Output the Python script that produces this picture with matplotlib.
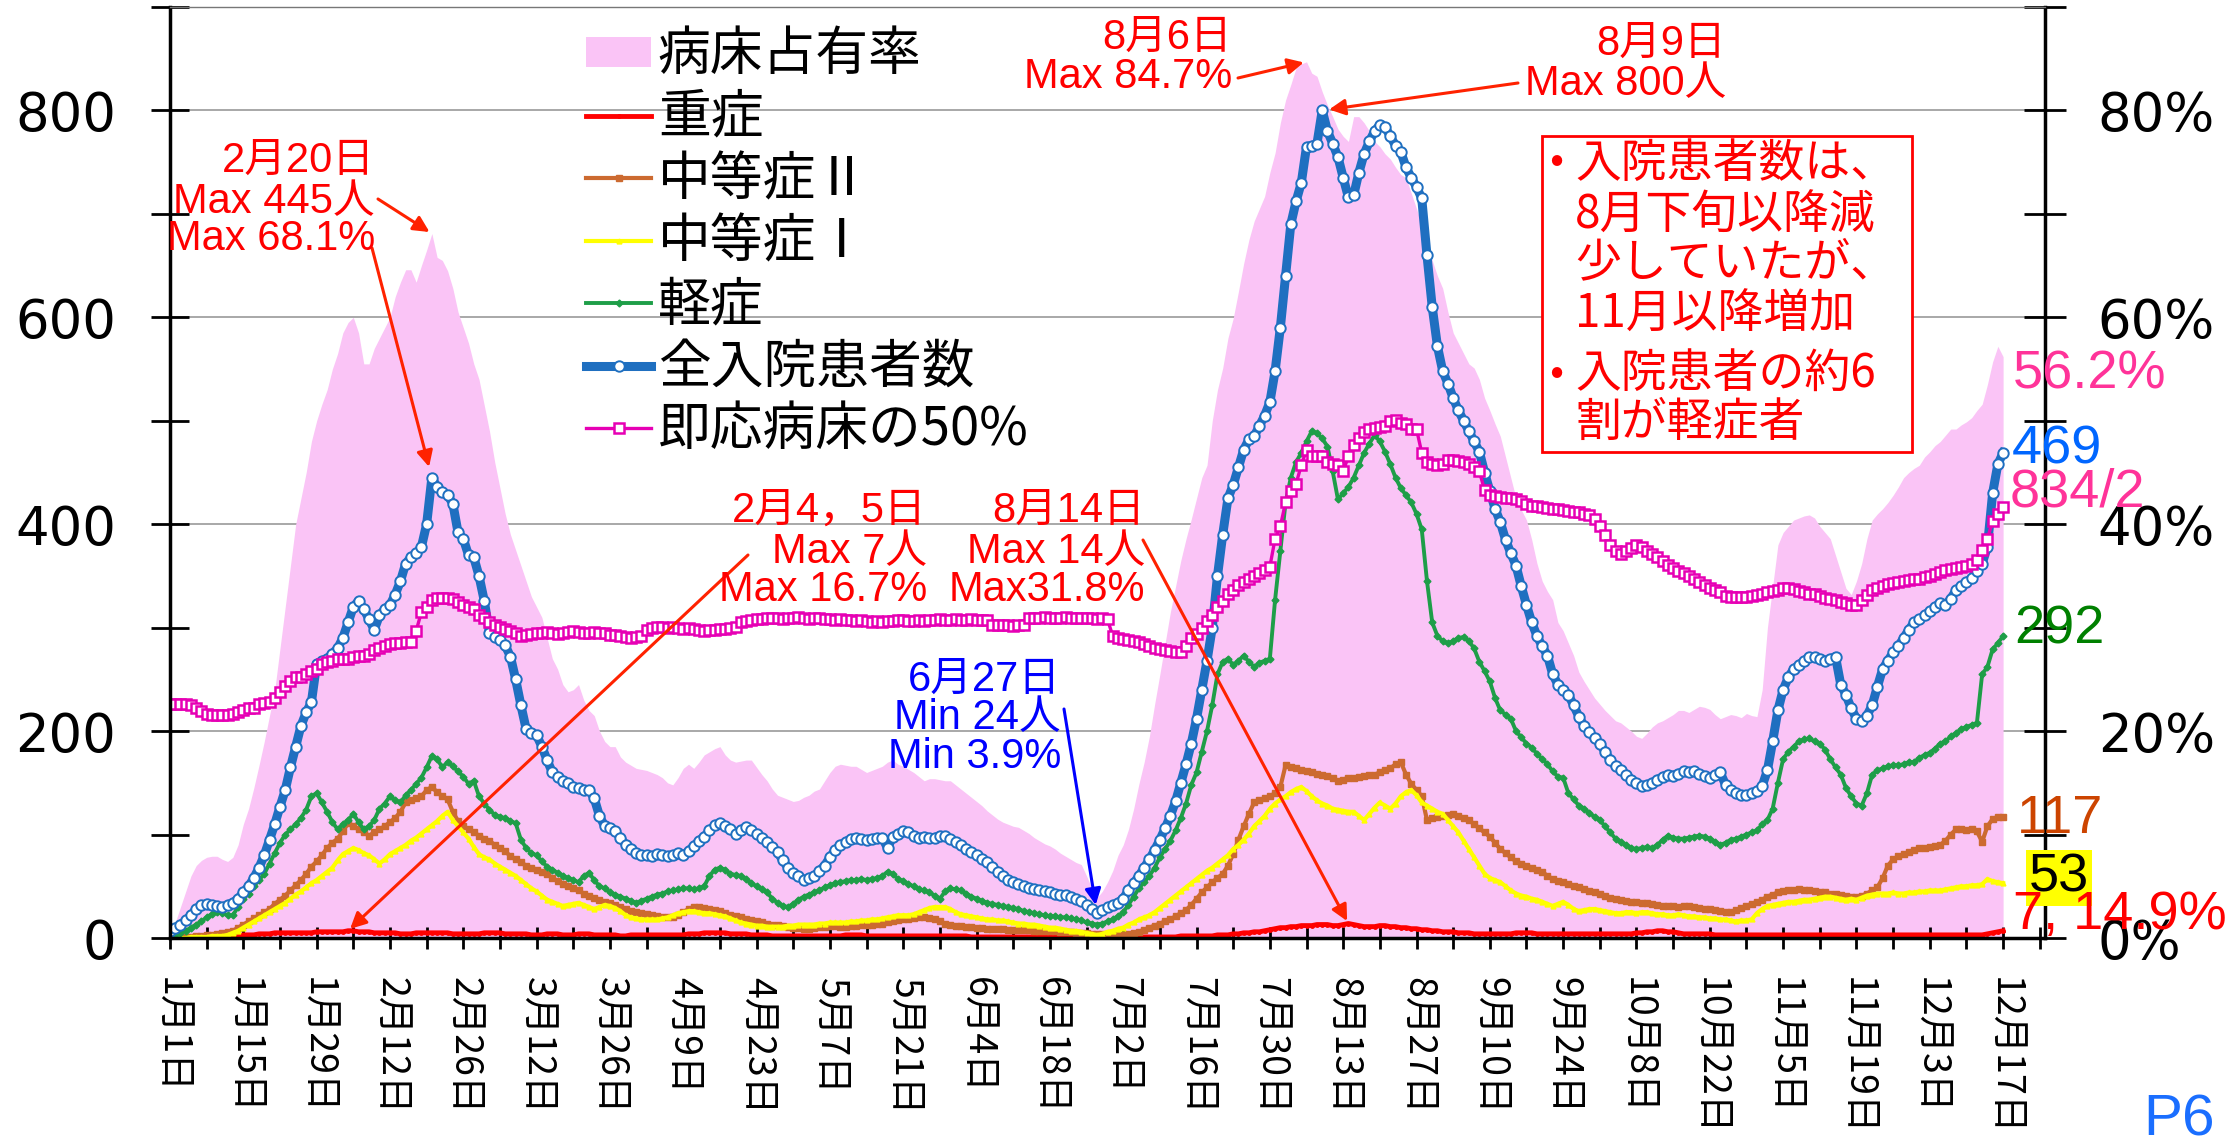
import matplotlib
matplotlib.use("Agg")
import matplotlib.pyplot as plt
from matplotlib.lines import Line2D
from matplotlib.patches import Patch, Rectangle
import numpy as np

plt.rcParams['font.family'] = ['Noto Sans CJK JP', 'DejaVu Sans']

W, H = 2226, 1147

# x tick labels, one every 14 days from Jan 1 to Dec 17
tick_labels = ["1月1日", "1月15日", "1月29日", "2月12日", "2月26日", "3月12日",
               "3月26日", "4月9日", "4月23日", "5月7日", "5月21日", "6月4日",
               "6月18日", "7月2日", "7月16日", "7月30日", "8月13日", "8月27日",
               "9月10日", "9月24日", "10月8日", "10月22日", "11月5日", "11月19日",
               "12月3日", "12月17日"]

series_labels = ["病床占有率", "重症", "中等症Ⅱ", "中等症Ⅰ", "軽症",
                 "全入院患者数", "即応病床の50%"]

# daily values, one row per week (day index in comment)
total = [
    7, 10, 13, 17, 22, 28, 32,            # 0
    33, 32, 31, 30, 32, 34, 38,           # 7
    44, 50, 58, 68, 80, 95, 110,          # 14
    127, 143, 165, 185, 205, 218, 228,    # 21
    265, 268, 270, 275, 280, 290, 305,    # 28
    320, 326, 318, 308, 298, 312, 318,    # 35
    322, 332, 345, 362, 368, 372, 378,    # 42
    400, 445, 436, 431, 428, 420, 392,    # 49
    386, 370, 368, 350, 326, 295, 291,    # 56
    288, 283, 272, 250, 225, 202, 198,    # 63
    196, 185, 172, 160, 156, 152, 150,    # 70
    146, 145, 143, 143, 135, 118, 108,    # 77
    106, 103, 97, 90, 86, 82, 80,         # 84
    80, 79, 81, 80, 79, 80, 82,           # 91
    80, 84, 89, 94, 98, 104, 109,         # 98
    111, 108, 105, 101, 104, 107, 104,    # 105
    101, 97, 93, 88, 83, 75, 68,          # 112
    63, 60, 56, 58, 60, 65, 70,           # 119
    78, 85, 90, 93, 96, 97, 96,           # 126
    95, 96, 97, 97, 87, 98, 101,          # 133
    103, 102, 99, 97, 98, 97, 97,         # 140
    99, 99, 96, 93, 90, 86, 83,           # 147
    80, 76, 73, 69, 64, 60, 56,           # 154
    54, 52, 50, 48, 47, 46, 45,           # 161
    44, 43, 42, 42, 40, 38, 36,           # 168
    32, 28, 24, 27, 30, 32, 34,           # 175
    38, 46, 53, 60, 68, 76, 85,           # 182
    95, 106, 118, 132, 150, 168, 188,     # 189
    212, 240, 268, 300, 350, 390, 425,    # 196
    438, 455, 472, 482, 485, 495, 505,    # 203
    518, 548, 590, 640, 690, 712, 730,    # 210
    765, 766, 768, 800, 780, 768, 755,    # 217
    735, 716, 718, 740, 758, 770, 780,    # 224
    786, 784, 775, 766, 760, 745, 735,    # 231
    726, 715, 660, 610, 572, 548, 536,    # 238
    522, 510, 500, 490, 480, 470, 450,    # 245
    432, 415, 402, 385, 372, 360, 340,    # 252
    322, 305, 292, 282, 273, 255, 245,    # 259
    240, 235, 225, 214, 205, 199, 193,    # 266
    188, 180, 172, 166, 162, 158, 153,    # 273
    150, 147, 148, 150, 153, 156, 158,    # 280
    157, 159, 161, 160, 161, 159, 157,    # 287
    155, 158, 160, 148, 143, 140, 138,    # 294
    138, 140, 142, 147, 162, 190, 220,    # 301
    240, 252, 260, 264, 268, 272, 272,    # 308
    270, 268, 270, 272, 245, 235, 222,    # 315
    212, 210, 215, 225, 243, 260, 268,    # 322
    276, 282, 290, 298, 305, 308, 312,    # 329
    316, 320, 324, 322, 328, 336, 340,    # 336
    344, 348, 355, 362, 378, 430, 458,    # 343
    469,                                  # 350
]

beds_half = [
    226, 226, 226, 226, 225, 222, 219,
    217, 216, 216, 216, 216, 217, 218,
    220, 222, 222, 226, 227, 228, 232,
    238, 244, 248, 252, 252, 255, 258,
    260, 265, 267, 268, 270, 270, 270,
    272, 273, 273, 275, 278, 280, 282,
    284, 285, 285, 286, 286, 297, 315,
    320, 327, 329, 329, 329, 328, 325,
    322, 320, 318, 312, 309, 305, 303,
    301, 299, 297, 295, 292, 293, 294,
    295, 295, 296, 295, 294, 295, 296,
    297, 296, 295, 295, 296, 295, 295,
    293, 293, 292, 291, 290, 291, 292,
    298, 300, 301, 301, 300, 301, 300,
    299, 300, 299, 298, 297, 298, 298,
    299, 299, 300, 301, 305, 306, 307,
    308, 308, 309, 309, 309, 308, 309,
    309, 310, 309, 308, 309, 309, 308,
    308, 307, 308, 307, 307, 306, 307,
    306, 305, 306, 305, 306, 306, 307,
    307, 306, 306, 307, 306, 307, 307,
    308, 307, 307, 308, 307, 307, 308,
    307, 307, 307, 303, 303, 303, 303,
    302, 303, 303, 309, 309, 309, 310,
    309, 309, 309, 310, 309, 309, 309,
    309, 309, 308, 309, 308, 292, 290,
    289, 288, 287, 286, 284, 282, 280,
    279, 278, 277, 276, 276, 282, 290,
    294, 300, 306, 312, 320, 326, 333,
    336, 341, 344, 347, 350, 353, 356,
    359, 386, 398, 421, 432, 439, 457,
    472, 466, 466, 466, 460, 458, 457,
    451, 466, 477, 483, 489, 492, 493,
    494, 495, 500, 501, 498, 497, 492,
    492, 469, 460, 458, 457, 458, 462,
    462, 461, 460, 458, 455, 451, 433,
    428, 427, 426, 425, 425, 424, 422,
    420, 418, 418, 417, 416, 415, 415,
    414, 413, 412, 412, 410, 409, 405,
    398, 390, 380, 374, 371, 374, 377,
    380, 378, 374, 371, 368, 364, 361,
    358, 355, 353, 350, 347, 344, 341,
    338, 336, 334, 331, 330, 330, 330,
    330, 331, 332, 333, 334, 335, 336,
    338, 338, 337, 335, 334, 333, 333,
    331, 329, 328, 327, 325, 324, 322,
    322, 327, 332, 336, 338, 340, 342,
    343, 344, 345, 346, 347, 347, 349,
    350, 352, 354, 356, 357, 358, 359,
    360, 362, 365, 375, 386, 403, 410,
    417,
]

mild = [
    1, 3, 5, 7, 10, 13, 16,
    20, 23, 25, 24, 22, 22, 30,
    38, 43, 50, 56, 62, 72, 82,
    92, 100, 105, 110, 116, 124, 137,
    140, 131, 122, 112, 105, 110, 114,
    120, 112, 105, 108, 114, 125, 130,
    137, 133, 131, 138, 143, 149, 155,
    165, 176, 173, 165, 170, 166, 161,
    156, 149, 152, 137, 130, 124, 119,
    117, 116, 113, 111, 95, 87, 82,
    80, 74, 69, 66, 63, 60, 58,
    56, 54, 60, 63, 56, 50, 48,
    44, 42, 40, 38, 36, 34, 36,
    38, 40, 42, 43, 45, 46, 47,
    48, 48, 47, 48, 50, 60, 66,
    68, 66, 62, 61, 60, 57, 53,
    50, 47, 44, 38, 34, 31, 30,
    33, 37, 40, 42, 44, 46, 49,
    51, 53, 54, 55, 56, 56, 57,
    56, 57, 58, 60, 64, 62, 57,
    55, 52, 50, 47, 46, 44, 41,
    38, 45, 48, 47, 46, 43, 40,
    38, 36, 34, 33, 32, 31, 30,
    29, 28, 26, 25, 24, 23, 22,
    21, 21, 20, 20, 19, 18, 17,
    15, 14, 13, 14, 16, 18, 21,
    25, 32, 40, 48, 54, 60, 68,
    78, 86, 94, 104, 116, 130, 148,
    160, 180, 200, 225, 255, 267, 270,
    264, 268, 273, 267, 262, 266, 268,
    270, 327, 374, 421, 445, 460, 469,
    480, 490, 488, 483, 475, 451, 424,
    430, 436, 445, 457, 469, 478, 486,
    480, 470, 458, 445, 435, 428, 421,
    410, 395, 345, 305, 292, 287, 285,
    287, 290, 291, 287, 280, 267, 258,
    248, 232, 220, 216, 212, 200, 194,
    188, 184, 178, 173, 168, 161, 156,
    155, 140, 134, 128, 125, 121, 117,
    114, 108, 102, 96, 93, 90, 87,
    86, 87, 88, 87, 90, 95, 99,
    97, 96, 96, 97, 98, 99, 98,
    96, 93, 90, 92, 95, 96, 98,
    100, 102, 104, 110, 114, 125, 150,
    173, 180, 185, 190, 192, 193, 190,
    188, 182, 173, 165, 158, 145, 137,
    130, 128, 140, 158, 162, 164, 166,
    167, 167, 168, 170, 170, 174, 177,
    179, 183, 188, 190, 195, 198, 202,
    204, 206, 208, 255, 262, 279, 285,
    292,
]

moderate2 = [
    0, 0, 1, 1, 1, 2, 2,
    3, 3, 4, 5, 6, 7, 10,
    13, 16, 19, 22, 25, 28, 33,
    37, 41, 46, 51, 56, 62, 69,
    74, 80, 87, 92, 96, 103, 111,
    108, 105, 102, 99, 102, 105, 108,
    112, 116, 122, 131, 133, 135, 137,
    143, 146, 141, 137, 134, 122, 113,
    108, 105, 102, 99, 96, 94, 90,
    87, 84, 79, 76, 73, 70, 68,
    66, 64, 62, 58, 55, 52, 50,
    48, 46, 43, 41, 39, 37, 35,
    34, 32, 30, 28, 26, 25, 24,
    23, 22, 21, 20, 20, 20, 22,
    25, 28, 30, 30, 29, 28, 27,
    26, 24, 22, 21, 20, 18, 17,
    16, 15, 14, 13, 13, 12, 11,
    10, 10, 9, 9, 10, 11, 11,
    12, 12, 11, 11, 12, 12, 13,
    13, 13, 14, 14, 15, 16, 17,
    18, 18, 19, 20, 20, 19, 18,
    16, 14, 13, 12, 12, 11, 11,
    10, 10, 9, 9, 9, 9, 8,
    8, 8, 8, 8, 7, 7, 7,
    7, 7, 6, 6, 6, 5, 5,
    5, 4, 4, 4, 4, 3, 3,
    3, 4, 5, 6, 8, 10, 12,
    14, 16, 18, 21, 24, 27, 32,
    38, 44, 49, 54, 58, 62, 70,
    81, 95, 108, 120, 131, 133, 135,
    137, 140, 146, 167, 165, 164, 162,
    161, 160, 159, 158, 157, 155, 152,
    153, 155, 155, 156, 157, 158, 158,
    160, 162, 164, 168, 170, 158, 149,
    143, 137, 114, 116, 117, 118, 119,
    120, 118, 116, 114, 110, 106, 102,
    98, 92, 86, 82, 78, 74, 72,
    70, 68, 66, 64, 60, 57, 55,
    54, 52, 50, 49, 47, 45, 44,
    43, 41, 39, 38, 37, 36, 35,
    35, 34, 34, 33, 32, 31, 31,
    31, 30, 31, 31, 30, 29, 28,
    28, 27, 26, 25, 25, 27, 29,
    31, 33, 35, 37, 40, 42, 44,
    45, 46, 46, 47, 46, 46, 45,
    44, 44, 43, 43, 42, 41, 40,
    40, 41, 43, 46, 49, 58, 70,
    76, 79, 81, 83, 85, 87, 87,
    88, 89, 90, 94, 100, 105, 105,
    104, 105, 103, 93, 108, 115, 117,
    117,
]

moderate1 = [
    0, 0, 0, 0, 1, 1, 1,
    1, 2, 2, 2, 3, 5, 7,
    10, 13, 16, 19, 22, 25, 28,
    31, 34, 38, 42, 45, 49, 53,
    56, 60, 64, 68, 75, 81, 84,
    87, 85, 82, 80, 76, 72, 76,
    81, 84, 87, 90, 94, 97, 101,
    105, 109, 113, 118, 122, 114, 108,
    102, 96, 88, 81, 78, 76, 72,
    69, 66, 63, 60, 56, 52, 48,
    45, 41, 37, 35, 33, 31, 32,
    33, 34, 32, 30, 28, 30, 32,
    31, 29, 26, 22, 20, 19, 18,
    18, 18, 18, 19, 20, 22, 24,
    25, 26, 26, 25, 24, 24, 23,
    22, 21, 19, 17, 15, 14, 13,
    12, 12, 11, 11, 11, 11, 12,
    12, 13, 13, 13, 13, 14, 14,
    15, 15, 15, 15, 16, 16, 17,
    17, 18, 18, 19, 20, 21, 22,
    22, 22, 23, 25, 27, 29, 30,
    30, 30, 28, 25, 23, 22, 21,
    20, 19, 18, 18, 17, 17, 16,
    15, 14, 14, 13, 13, 12, 11,
    10, 10, 9, 8, 7, 7, 6,
    5, 4, 3, 4, 6, 7, 9,
    10, 13, 15, 18, 20, 22, 25,
    29, 33, 37, 41, 45, 49, 53,
    57, 61, 65, 68, 72, 76, 80,
    86, 90, 95, 101, 108, 113, 118,
    125, 130, 134, 137, 141, 144, 146,
    142, 137, 133, 130, 128, 125, 124,
    123, 122, 122, 118, 114, 120, 126,
    131, 128, 125, 130, 137, 141, 143,
    138, 131, 128, 125, 122, 120, 114,
    108, 102, 94, 86, 78, 70, 62,
    58, 56, 54, 50, 46, 43, 41,
    40, 38, 37, 35, 33, 31, 33,
    35, 32, 28, 26, 27, 28, 28,
    27, 26, 25, 24, 24, 25, 25,
    24, 25, 25, 24, 23, 23, 22,
    22, 23, 22, 21, 21, 20, 20,
    19, 19, 18, 18, 17, 16, 17,
    17, 18, 24, 28, 31, 32, 33,
    34, 35, 35, 36, 37, 37, 38,
    39, 40, 40, 39, 38, 37, 38,
    37, 39, 41, 42, 43, 43, 43,
    44, 43, 43, 44, 44, 45, 45,
    46, 46, 46, 47, 48, 49, 50,
    50, 51, 51, 52, 57, 55, 54,
    53,
]

severe = [
    0, 0, 0, 0, 0, 0, 0,
    0, 0, 0, 0, 1, 2, 2,
    3, 3, 3, 4, 4, 4, 5,
    5, 5, 5, 5, 5, 5, 5,
    6, 6, 6, 6, 6, 6, 7,
    7, 6, 6, 6, 5, 5, 5,
    5, 5, 4, 4, 4, 5, 5,
    5, 5, 5, 5, 5, 4, 4,
    4, 4, 4, 4, 5, 5, 5,
    5, 4, 4, 4, 4, 4, 3,
    3, 3, 4, 4, 4, 3, 3,
    3, 4, 4, 4, 3, 3, 3,
    3, 3, 2, 2, 3, 3, 3,
    3, 3, 3, 3, 3, 3, 3,
    3, 4, 4, 4, 5, 5, 5,
    5, 5, 4, 4, 4, 4, 3,
    3, 3, 3, 2, 2, 2, 2,
    2, 2, 2, 2, 2, 2, 2,
    2, 2, 2, 3, 3, 3, 3,
    2, 2, 2, 2, 2, 2, 2,
    2, 2, 2, 2, 2, 2, 2,
    2, 2, 2, 2, 2, 2, 1,
    1, 1, 1, 1, 1, 1, 1,
    1, 1, 1, 1, 1, 1, 1,
    1, 1, 1, 1, 1, 1, 1,
    1, 1, 0, 0, 0, 1, 1,
    1, 1, 1, 1, 1, 1, 1,
    1, 1, 1, 1, 2, 2, 2,
    2, 2, 2, 2, 3, 3, 3,
    4, 4, 5, 5, 6, 6, 7,
    8, 9, 10, 10, 11, 11, 12,
    12, 12, 13, 13, 13, 12, 12,
    13, 14, 13, 12, 11, 11, 11,
    12, 12, 11, 11, 10, 10, 9,
    9, 8, 8, 7, 7, 6, 6,
    6, 5, 5, 5, 4, 4, 4,
    4, 4, 4, 4, 4, 5, 5,
    5, 5, 4, 4, 4, 4, 4,
    4, 4, 4, 4, 4, 4, 4,
    4, 4, 4, 4, 4, 4, 4,
    5, 5, 6, 6, 7, 7, 6,
    6, 5, 4, 4, 4, 4, 4,
    4, 3, 3, 3, 3, 3, 3,
    3, 3, 3, 3, 3, 3, 3,
    3, 3, 3, 3, 3, 3, 3,
    3, 3, 3, 3, 3, 3, 3,
    3, 3, 3, 3, 3, 3, 3,
    3, 3, 3, 3, 3, 3, 3,
    3, 3, 3, 3, 3, 3, 3,
    3, 3, 3, 3, 4, 5, 6,
    7,
]

# bed occupancy rate (%)
occupancy = [
    0.5, 1.5, 3.0, 4.5, 6.0, 7.0, 7.5,
    7.8, 7.9, 7.9, 7.6, 7.4, 7.8, 9.0,
    11.0, 12.5, 14.5, 16.7, 19.0, 21.5, 24.0,
    28.0, 32.0, 36.0, 40.0, 42.5, 45.0, 48.0,
    50.0, 51.6, 53.0, 55.0, 56.5, 58.5, 59.5,
    60.0, 58.5, 55.5, 55.5, 57.0, 58.0, 59.0,
    60.0, 62.0, 63.4, 64.6, 64.6, 63.4, 65.0,
    66.5, 68.1, 65.8, 65.5, 64.5, 62.8, 60.5,
    59.0, 57.5, 55.5, 54.0, 51.5, 49.0, 46.0,
    43.5, 41.0, 39.0, 37.5, 36.0, 34.5, 33.0,
    32.0, 31.0, 29.0, 27.0, 26.0, 24.5, 23.8,
    24.0, 24.5, 23.0, 22.0, 21.5, 20.0, 19.0,
    18.5, 18.5, 17.5, 17.0, 16.7, 16.4, 16.3,
    16.2, 16.0, 15.8, 15.5, 15.0, 14.8, 15.5,
    16.4, 16.8, 16.4, 17.0, 17.7, 18.0, 18.3,
    18.5, 17.7, 17.2, 17.0, 17.1, 17.2, 17.2,
    16.5, 15.8, 15.2, 14.4, 13.8, 13.6, 13.4,
    13.2, 13.3, 13.6, 13.8, 14.2, 14.4, 15.2,
    16.0, 16.6, 16.8, 16.7, 16.6, 16.6, 16.3,
    16.0, 16.2, 16.4, 16.6, 17.0, 17.2, 16.8,
    16.6, 16.3, 16.0, 15.6, 15.2, 15.4, 15.4,
    15.3, 15.2, 15.2, 14.8, 14.4, 14.0, 13.6,
    13.2, 12.8, 12.3, 11.9, 11.5, 11.2, 11.0,
    10.8, 10.7, 10.4, 10.1, 9.7, 9.4, 9.1,
    8.9, 8.6, 8.2, 7.9, 7.6, 7.3, 7.1,
    6.0, 4.8, 3.9, 4.5, 5.4, 6.5, 8.0,
    9.0, 10.5, 12.5, 14.9, 17.0, 19.5, 22.6,
    25.5, 28.5, 31.5, 34.0, 36.5, 38.6, 40.5,
    42.5, 44.5, 45.7, 50.0, 53.0, 55.1, 58.0,
    59.9, 62.5, 65.2, 67.5, 69.3, 70.5, 71.7,
    74.0, 75.9, 78.8, 81.0, 82.5, 84.1, 84.5,
    84.7, 83.6, 83.3, 81.8, 80.5, 79.4, 78.2,
    77.5, 77.0, 79.4, 79.4, 78.8, 78.0, 77.0,
    76.5, 75.8, 75.3, 74.5, 73.8, 73.5, 72.0,
    70.5, 69.0, 67.0, 65.5, 64.0, 62.8, 60.5,
    58.5, 57.5, 56.5, 55.5, 55.1, 54.0, 52.2,
    51.0, 49.7, 48.5, 46.5, 44.5, 42.5, 41.4,
    40.4, 38.5, 36.2, 34.5, 33.5, 32.7, 30.5,
    29.7, 28.5, 27.3, 25.7, 24.8, 24.0, 23.2,
    22.6, 22.0, 21.5, 21.0, 20.8, 20.4, 20.0,
    19.5, 19.3, 19.8, 20.4, 20.8, 21.0, 21.3,
    21.6, 22.0, 22.0, 21.8, 22.1, 22.4, 22.3,
    22.1, 21.6, 21.2, 21.4, 21.6, 21.5, 21.3,
    21.7, 21.5, 21.4, 24.0, 30.0, 34.0, 38.0,
    39.2, 39.8, 40.4, 40.6, 40.8, 40.9, 40.6,
    39.8, 39.2, 38.6, 37.0, 35.4, 33.8, 33.2,
    34.5, 36.2, 38.6, 40.4, 41.0, 41.5, 42.1,
    42.8, 43.6, 44.5, 45.0, 45.4, 45.7, 46.5,
    47.0, 47.6, 48.0, 48.6, 49.2, 49.2, 49.6,
    49.9, 50.3, 51.0, 51.6, 53.5, 55.7, 57.2,
    56.2,
]

PINK = "#FAC4F6"
RED = "#FF0000"
BROWN = "#CC6A30"
YELLOW = "#FFFF00"
GREEN = "#1E9E48"
BLUE = "#1F6FC0"
MAGENTA = "#E600B4"

total = np.array(total)
occupancy = np.array(occupancy)
severe = np.array(severe)
days = np.arange(len(total))

fig = plt.figure(figsize=(W / 100, H / 100), dpi=100)
ax = fig.add_axes([170 / W, 1 - 938 / H, (2045 - 170) / W, (938 - 7) / H])
ax2 = ax.twinx()
ax.set_zorder(ax2.get_zorder() + 1)
ax.patch.set_visible(False)

# occupancy area on the right (%) axis, under everything
ax2.fill_between(days, occupancy, 0, color=PINK, lw=0, zorder=2)
ax2.set_ylim(0, 90)
ax2.set_yticks(range(0, 81, 20))
ax2.set_yticklabels([f"{v}%" for v in range(0, 81, 20)], family="DejaVu Sans")
ax2.set_yticks(range(10, 91, 20), minor=True)
ax2.grid(axis="y", which="major", color="#9a9a9a", lw=1.2)
ax2.set_axisbelow(True)
ax2.tick_params(axis="y", which="both", direction="inout", length=30, width=2,
                labelsize=38, pad=23)

line_styles = [
    (severe, dict(color=RED, lw=3.5, marker="o", ms=2.5)),
    (moderate2, dict(color=BROWN, lw=3, marker="s", ms=4)),
    (moderate1, dict(color=YELLOW, lw=3, marker="^", ms=3.5)),
    (mild, dict(color=GREEN, lw=2.8, marker="D", ms=3.5)),
    (total, dict(color=BLUE, lw=6.5, marker="o", ms=7.5, mfc="white", mec=BLUE, mew=1.4)),
    (beds_half, dict(color=MAGENTA, lw=2.4, marker="s", ms=6.5, mfc="white", mec=MAGENTA, mew=1.8)),
]
for vals, st in line_styles:
    ax.plot(days, vals, **st)

ax.set_xlim(0, 358)
ax.set_ylim(0, 900)
ax.set_xticks(np.arange(0, 351, 14))
ax.set_xticklabels(tick_labels, rotation=-90, ha="center", va="top", fontsize=27)
ax.set_xticks(np.arange(7, 358, 14), minor=True)
ax.tick_params(axis="x", which="both", direction="inout", length=16, width=2, pad=20)
ax.set_yticks(range(0, 801, 200))
ax.set_yticklabels([str(v) for v in range(0, 801, 200)], family="DejaVu Sans")
ax.set_yticks(range(100, 901, 200), minor=True)
ax.tick_params(axis="y", which="both", direction="inout", length=28, width=2,
               labelsize=38, pad=25)

for s in ("left", "bottom"):
    ax.spines[s].set_linewidth(2.5)
ax.spines["right"].set_visible(False)
ax.spines["top"].set_color("#777777")
ax.spines["top"].set_linewidth(1)
for s in ("left", "bottom", "top"):
    ax2.spines[s].set_visible(False)
ax2.spines["right"].set_linewidth(2.5)

# legend
handles = [Patch(facecolor=PINK, edgecolor="none")]
for vals, st in line_styles:
    handles.append(Line2D([], [], **st))
ax.legend(handles, series_labels, loc="upper left", bbox_to_anchor=(0.2219, 0.978),
          frameon=False, prop={"family": "Noto Sans CJK JP", "size": 38},
          handlelength=1.23, handleheight=0.5, handletextpad=0.13,
          labelspacing=0.14, borderpad=0, borderaxespad=0, numpoints=1)


def fx(x, y):
    return (x / W, 1 - y / H)


LATIN_CJK = ["Liberation Sans", "Noto Sans CJK JP"]


def block(lines, x_right, ys, color):
    for s, y in zip(lines, ys):
        fig.text(*fx(x_right, y), s, ha="right", va="center", color=color,
                 fontsize=30, family=LATIN_CJK)


ARROW = dict(arrowstyle="-|>", color="#FF2200", lw=2.2, mutation_scale=24,
             shrinkA=0, shrinkB=2)

block(["2月20日", "Max 445人", "Max 68.1%"], 375, [161, 202, 239], RED)
block(["8月6日", "Max 84.7%"], 1232, [38, 77], RED)
block(["8月9日", "Max 800人"], 1726, [44, 84], RED)
block(["2月4，5日", "Max 7人", "Max 16.7%"], 927, [511, 552, 590], RED)
block(["8月14日", "Max 14人", "Max31.8%"], 1145, [511, 552, 590], RED)
block(["6月27日", "Min 24人", "Min 3.9%"], 1061, [680, 718, 757], "#0000FF")

early = slice(0, 120)
i_occ1 = int(np.argmax(occupancy[early]))
i_tot1 = int(np.argmax(total[early]))
i_sev1 = int(np.argmax(severe[early]))
i_occ = int(np.argmax(occupancy))
i_tot = int(np.argmax(total))
i_sev = int(np.argmax(severe))
i_min = 150 + int(np.argmin(total[150:200]))

ax.annotate("", xy=(i_occ1, occupancy[i_occ1]), xycoords=ax2.transData,
            xytext=fx(378, 199), textcoords="figure fraction", arrowprops=ARROW)
ax.annotate("", xy=(i_tot1, total[i_tot1]), xytext=fx(372, 248),
            textcoords="figure fraction", arrowprops=dict(ARROW, shrinkB=8))
ax.annotate("", xy=(i_occ, occupancy[i_occ]), xycoords=ax2.transData,
            xytext=fx(1238, 78), textcoords="figure fraction", arrowprops=ARROW)
ax.annotate("", xy=(i_tot, total[i_tot]), xytext=fx(1518, 83),
            textcoords="figure fraction", arrowprops=dict(ARROW, shrinkB=5))
ax.annotate("", xy=(i_sev1, severe[i_sev1]), xytext=fx(748, 555),
            textcoords="figure fraction", arrowprops=ARROW)
ax.annotate("", xy=(i_sev, severe[i_sev]), xytext=fx(1143, 540),
            textcoords="figure fraction", arrowprops=ARROW)
ax.annotate("", xy=(i_min, total[i_min]), xytext=fx(1064, 709),
            textcoords="figure fraction", arrowprops=dict(ARROW, color="#0000FF", shrinkB=6))

# note box
fig.add_artist(Rectangle(fx(1542, 452), 370 / W, 316 / H, transform=fig.transFigure,
                         facecolor="white", edgecolor=RED, lw=2, zorder=4))
note_lines = ["入院患者数は、", "8月下旬以降減", "少していたが、", "11月以降増加",
              "入院患者の約6", "割が軽症者"]
for s, y in zip(note_lines, [164, 216, 263, 315, 374, 423]):
    fig.text(*fx(1575, y), s, ha="left", va="center", color=RED, fontsize=33, zorder=5)
for y in (162, 374):
    fig.text(*fx(1556, y), "•", ha="center", va="center", color=RED, fontsize=30, zorder=5)

# latest values at the right end
end_labels = [("56.2%", 2013, 375, "#FF3399"), ("469", 2012, 449, "#0066FF"),
              ("834/2", 2010, 492, "#FF3399"), ("292", 2014, 630, "#008000"),
              ("117", 2017, 819, "#CC4400")]
for s, x, y, c in end_labels:
    fig.text(*fx(x, y), s, ha="left", va="center", color=c, fontsize=39,
             family="Liberation Sans", zorder=5)
fig.text(*fx(2059, 878), "53", ha="center", va="center", color="black", fontsize=39,
         family="Liberation Sans", zorder=5,
         bbox=dict(boxstyle="square,pad=0.05", fc="#FFFF00", ec="none"))
fig.text(*fx(2013, 915), "7, 14.9%", ha="left", va="center", color=RED, fontsize=39,
         family="Liberation Sans", zorder=6)
fig.text(*fx(2179, 1120), "P6", ha="center", va="center", color="#1A6EFF",
         fontsize=42, family="Liberation Sans")

fig.savefig("out.png", dpi=100)
